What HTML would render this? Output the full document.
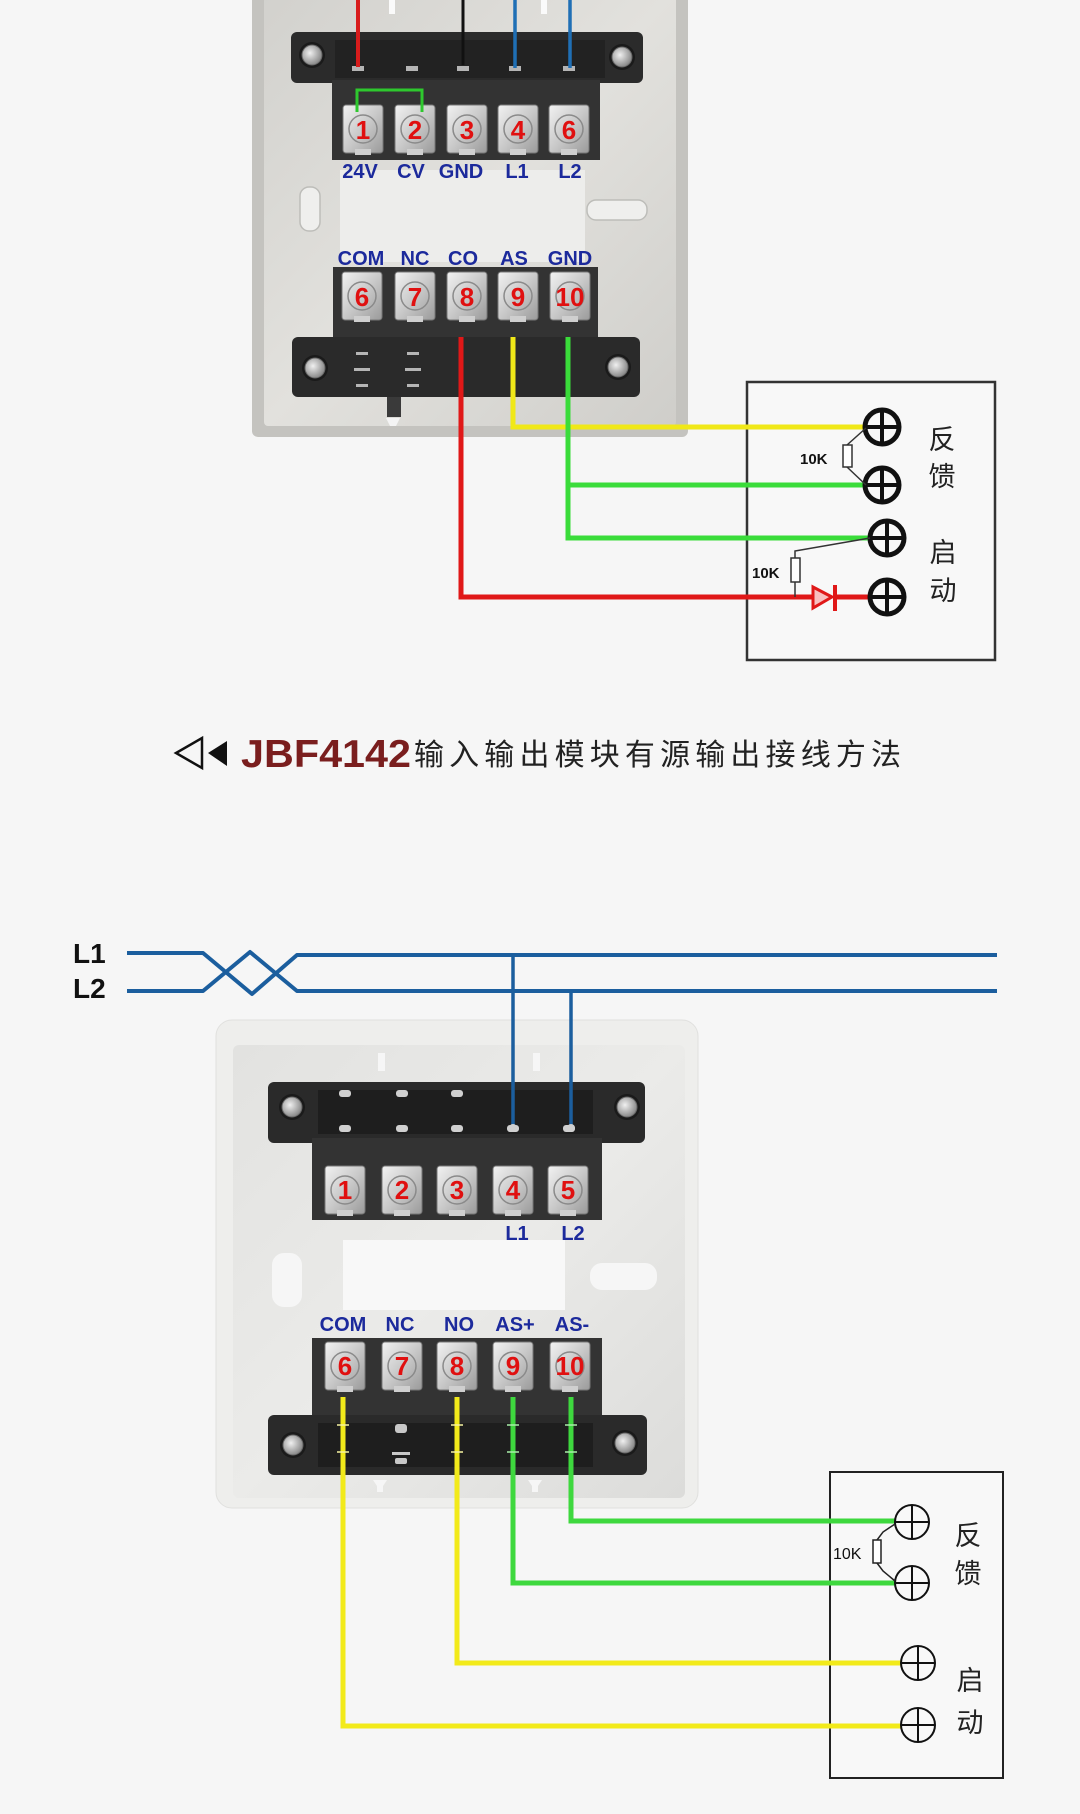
<!DOCTYPE html>
<html>
<head>
<meta charset="utf-8">
<style>
  html,body{margin:0;padding:0;background:#f6f6f6;}
  svg{display:block;}
  text{font-family:"Liberation Sans","Noto Sans CJK SC",sans-serif;}
</style>
</head>
<body>
<svg width="1080" height="1814" viewBox="0 0 1080 1814" xmlns="http://www.w3.org/2000/svg">
  <defs>
    <linearGradient id="tile" x1="0" y1="0" x2="1" y2="1">
      <stop offset="0" stop-color="#f2f2f2"/>
      <stop offset="0.5" stop-color="#c9c9c9"/>
      <stop offset="1" stop-color="#9a9a9a"/>
    </linearGradient>
    <radialGradient id="screw" cx="0.4" cy="0.4" r="0.6">
      <stop offset="0" stop-color="#f0f0f0"/>
      <stop offset="1" stop-color="#8a8a8a"/>
    </radialGradient>
    <linearGradient id="panel1" x1="0" y1="0" x2="1" y2="1">
      <stop offset="0" stop-color="#d2d1cd"/>
      <stop offset="0.5" stop-color="#e2e1dd"/>
      <stop offset="1" stop-color="#cfceca"/>
    </linearGradient>
    <linearGradient id="panel2" x1="0" y1="0" x2="1" y2="1">
      <stop offset="0" stop-color="#e2e2e0"/>
      <stop offset="0.5" stop-color="#ebebe9"/>
      <stop offset="1" stop-color="#dcdcda"/>
    </linearGradient>
    <g id="tileG">
      <rect x="-20" y="0" width="40" height="48" rx="3" fill="url(#tile)" stroke="#777" stroke-width="1"/>
      <circle cx="0" cy="24" r="14" fill="none" stroke="#8a8a8a" stroke-width="1.5"/>
      <rect x="-8" y="44" width="16" height="6" fill="#cfcfcf"/>
    </g>
    <g id="screwG">
      <circle r="13" fill="#1a1a1a"/>
      <circle r="10" fill="url(#screw)" stroke="#666" stroke-width="1"/>
    </g>
  </defs>

  <rect width="1080" height="1814" fill="#f6f6f6"/>

  <!-- ================= TOP MODULE ================= -->
  <rect x="252" y="-10" width="436" height="447" rx="6" fill="#c4c3bf"/>
  <rect x="264" y="-10" width="412" height="436" rx="4" fill="url(#panel1)"/>
  <rect x="340" y="170" width="245" height="92" fill="#ededeb"/>
  <rect x="300" y="187" width="20" height="44" rx="9" fill="#efefed" stroke="#bdbdb9" stroke-width="1.5"/>
  <rect x="587" y="200" width="60" height="20" rx="9" fill="#efefed" stroke="#bdbdb9" stroke-width="1.5"/>
  <rect x="389" y="0" width="6" height="14" fill="#fafafa"/>
  <rect x="541" y="0" width="6" height="14" fill="#fafafa"/>

  <rect x="291" y="32" width="352" height="51" rx="6" fill="#2b2b2b"/>
  <rect x="335" y="40" width="270" height="38" fill="#222"/>
  <g fill="#b5b5b5">
    <rect x="352" y="66" width="12" height="5"/>
    <rect x="406" y="66" width="12" height="5"/>
    <rect x="457" y="66" width="12" height="5"/>
    <rect x="509" y="66" width="12" height="5"/>
    <rect x="563" y="66" width="12" height="5"/>
  </g>
  <use href="#screwG" x="312" y="55"/>
  <use href="#screwG" x="622" y="57"/>

  <rect x="332" y="80" width="268" height="80" fill="#333"/>
  <use href="#tileG" x="363" y="105"/>
  <use href="#tileG" x="415" y="105"/>
  <use href="#tileG" x="467" y="105"/>
  <use href="#tileG" x="518" y="105"/>
  <use href="#tileG" x="569" y="105"/>
  <g font-weight="bold" font-size="26" fill="#e01010" text-anchor="middle">
    <text x="363" y="139">1</text>
    <text x="415" y="139">2</text>
    <text x="467" y="139">3</text>
    <text x="518" y="139">4</text>
    <text x="569" y="139">6</text>
  </g>
  <g font-weight="bold" font-size="20" fill="#1c2a9c" text-anchor="middle">
    <text x="360" y="178">24V</text>
    <text x="411" y="178">CV</text>
    <text x="461" y="178">GND</text>
    <text x="517" y="178">L1</text>
    <text x="570" y="178">L2</text>
  </g>

  <g font-weight="bold" font-size="20" fill="#1c2a9c" text-anchor="middle">
    <text x="361" y="265">COM</text>
    <text x="415" y="265">NC</text>
    <text x="463" y="265">CO</text>
    <text x="514" y="265">AS</text>
    <text x="570" y="265">GND</text>
  </g>
  <rect x="333" y="267" width="265" height="72" fill="#333"/>
  <use href="#tileG" x="362" y="272"/>
  <use href="#tileG" x="415" y="272"/>
  <use href="#tileG" x="467" y="272"/>
  <use href="#tileG" x="518" y="272"/>
  <use href="#tileG" x="570" y="272"/>
  <g font-weight="bold" font-size="26" fill="#e01010" text-anchor="middle">
    <text x="362" y="306">6</text>
    <text x="415" y="306">7</text>
    <text x="467" y="306">8</text>
    <text x="518" y="306">9</text>
    <text x="570" y="306">10</text>
  </g>
  <rect x="292" y="337" width="348" height="60" rx="6" fill="#2a2a2a"/>
  <g fill="#b5b5b5">
    <rect x="356" y="352" width="12" height="3"/>
    <rect x="354" y="368" width="16" height="3"/>
    <rect x="356" y="384" width="12" height="3"/>
    <rect x="407" y="352" width="12" height="3"/>
    <rect x="405" y="368" width="16" height="3"/>
    <rect x="407" y="384" width="12" height="3"/>
  </g>
  <use href="#screwG" x="315" y="368"/>
  <use href="#screwG" x="618" y="367"/>
  <rect x="387" y="397" width="14" height="20" fill="#3a3a3a"/>
  <path d="M386,418 h14 l-4,8 h-6 z" fill="#f4f4f4"/>

  <line x1="358" y1="0" x2="358" y2="67" stroke="#d81c1c" stroke-width="4"/>
  <line x1="463" y1="0" x2="463" y2="65" stroke="#111" stroke-width="3"/>
  <line x1="515" y1="0" x2="515" y2="68" stroke="#1f6fb5" stroke-width="3.5"/>
  <line x1="570" y1="0" x2="570" y2="68" stroke="#1f6fb5" stroke-width="3.5"/>
  <path d="M357,112 V90 H422 V112" fill="none" stroke="#2ec82e" stroke-width="3"/>

  <!-- box 1 -->
  <rect x="747" y="382" width="248" height="278" fill="#f8f8f8" stroke="#333" stroke-width="2.5"/>

  <path d="M461,337 V597 H812" fill="none" stroke="#e01818" stroke-width="5"/>
  <path d="M513,337 V427 H866" fill="none" stroke="#f0e818" stroke-width="5"/>
  <path d="M568,337 V538 H870" fill="none" stroke="#3adc3a" stroke-width="5"/>
  <path d="M568,485 H866" fill="none" stroke="#3adc3a" stroke-width="5"/>
  <line x1="835" y1="597" x2="870" y2="597" stroke="#e01818" stroke-width="5"/>

  <g stroke="#111" stroke-width="5" fill="none">
    <circle cx="882" cy="427" r="17"/>
    <circle cx="882" cy="485" r="17"/>
    <circle cx="887" cy="538" r="17"/>
    <circle cx="887" cy="597" r="17"/>
  </g>
  <g stroke="#111" stroke-width="4">
    <line x1="865" y1="427" x2="899" y2="427"/><line x1="882" y1="410" x2="882" y2="444"/>
    <line x1="865" y1="485" x2="899" y2="485"/><line x1="882" y1="468" x2="882" y2="502"/>
    <line x1="870" y1="538" x2="904" y2="538"/><line x1="887" y1="521" x2="887" y2="555"/>
    <line x1="870" y1="597" x2="904" y2="597"/><line x1="887" y1="580" x2="887" y2="614"/>
  </g>
  <path d="M847,445 L866,428 M847,467 L866,485" stroke="#333" stroke-width="1.5" fill="none"/>
  <rect x="843" y="445" width="9" height="22" fill="#fff" stroke="#333" stroke-width="1.5"/>
  <text x="800" y="464" font-size="15" font-weight="bold" fill="#111">10K</text>
  <path d="M795,558 V551 L870,538 M795,582 V597" stroke="#333" stroke-width="1.5" fill="none"/>
  <rect x="791" y="558" width="9" height="24" fill="#fff" stroke="#333" stroke-width="1.5"/>
  <text x="752" y="578" font-size="15" font-weight="bold" fill="#111">10K</text>
  <polygon points="813,587 813,608 832,597" fill="#f8c0c0" stroke="#e01818" stroke-width="3"/>
  <line x1="835" y1="585" x2="835" y2="611" stroke="#e01818" stroke-width="4"/>
  <g font-size="27" fill="#222" text-anchor="middle">
    <text x="942" y="449">反</text>
    <text x="942" y="486">馈</text>
    <text x="943" y="562">启</text>
    <text x="943" y="600">动</text>
  </g>

  <!-- ================= CAPTION ================= -->
  <polygon points="202,738 202,768 176,753" fill="none" stroke="#111" stroke-width="2.5"/>
  <polygon points="227,741 227,766 208,753" fill="#111"/>
  <text x="241" y="767" font-size="39" font-weight="bold" fill="#7a1e1e" textLength="170" lengthAdjust="spacingAndGlyphs">JBF4142</text>
  <text x="414" y="765" font-size="30" fill="#222" textLength="487" lengthAdjust="spacing">输入输出模块有源输出接线方法</text>

  <!-- ================= BOTTOM SECTION ================= -->
  <text x="73" y="963" font-size="28" font-weight="bold" fill="#111">L1</text>
  <text x="73" y="998" font-size="28" font-weight="bold" fill="#111">L2</text>
  <g stroke="#1b5e9e" stroke-width="4" fill="none" stroke-linejoin="round">
    <path d="M127,953 H203 L252,994 L297,955 H997"/>
    <path d="M127,991 H203 L250,952 L297,991 H997"/>
  </g>

  <rect x="216" y="1020" width="482" height="488" rx="16" fill="#eeeeec" stroke="#e0e0de" stroke-width="1"/>
  <rect x="233" y="1045" width="452" height="453" rx="6" fill="url(#panel2)"/>
  <rect x="343" y="1240" width="222" height="70" fill="#f8f8f8"/>
  <rect x="272" y="1253" width="30" height="54" rx="12" fill="#f6f6f6"/>
  <rect x="590" y="1263" width="67" height="27" rx="12" fill="#f6f6f6"/>
  <rect x="378" y="1053" width="7" height="18" fill="#f6f6f6"/>
  <rect x="533" y="1053" width="7" height="18" fill="#f6f6f6"/>

  <rect x="268" y="1082" width="377" height="61" rx="6" fill="#2a2a2a"/>
  <rect x="318" y="1090" width="275" height="44" fill="#1e1e1e"/>
  <g fill="#d0d0d0">
    <rect x="339" y="1090" width="12" height="7" rx="3"/>
    <rect x="396" y="1090" width="12" height="7" rx="3"/>
    <rect x="451" y="1090" width="12" height="7" rx="3"/>
    <rect x="339" y="1125" width="12" height="7" rx="3"/>
    <rect x="396" y="1125" width="12" height="7" rx="3"/>
    <rect x="451" y="1125" width="12" height="7" rx="3"/>
    <rect x="507" y="1125" width="12" height="7" rx="3"/>
    <rect x="563" y="1125" width="12" height="7" rx="3"/>
  </g>
  <use href="#screwG" x="292" y="1107"/>
  <use href="#screwG" x="627" y="1107"/>

  <rect x="312" y="1138" width="290" height="82" fill="#333"/>
  <use href="#tileG" x="345" y="1166"/>
  <use href="#tileG" x="402" y="1166"/>
  <use href="#tileG" x="457" y="1166"/>
  <use href="#tileG" x="513" y="1166"/>
  <use href="#tileG" x="568" y="1166"/>
  <g font-weight="bold" font-size="26" fill="#e01010" text-anchor="middle">
    <text x="345" y="1199">1</text>
    <text x="402" y="1199">2</text>
    <text x="457" y="1199">3</text>
    <text x="513" y="1199">4</text>
    <text x="568" y="1199">5</text>
  </g>
  <g font-weight="bold" font-size="20" fill="#1c2a9c" text-anchor="middle">
    <text x="517" y="1240">L1</text>
    <text x="573" y="1240">L2</text>
  </g>

  <g font-weight="bold" font-size="20" fill="#1c2a9c" text-anchor="middle">
    <text x="343" y="1331">COM</text>
    <text x="400" y="1331">NC</text>
    <text x="459" y="1331">NO</text>
    <text x="515" y="1331">AS+</text>
    <text x="572" y="1331">AS-</text>
  </g>
  <rect x="312" y="1338" width="290" height="79" fill="#333"/>
  <use href="#tileG" x="345" y="1342"/>
  <use href="#tileG" x="402" y="1342"/>
  <use href="#tileG" x="457" y="1342"/>
  <use href="#tileG" x="513" y="1342"/>
  <use href="#tileG" x="570" y="1342"/>
  <g font-weight="bold" font-size="26" fill="#e01010" text-anchor="middle">
    <text x="345" y="1375">6</text>
    <text x="402" y="1375">7</text>
    <text x="457" y="1375">8</text>
    <text x="513" y="1375">9</text>
    <text x="570" y="1375">10</text>
  </g>
  <rect x="268" y="1415" width="379" height="60" rx="6" fill="#2a2a2a"/>
  <rect x="318" y="1423" width="275" height="44" fill="#1e1e1e"/>
  <g fill="#c8c8c8">
    <rect x="395" y="1424" width="12" height="9" rx="3"/>
    <rect x="392" y="1452" width="18" height="3"/>
    <rect x="395" y="1458" width="12" height="6" rx="2"/>
  </g>
  <use href="#screwG" x="293" y="1445"/>
  <use href="#screwG" x="625" y="1443"/>
  <path d="M373,1480 h14 l-4,6 v6 h-6 v-6 z" fill="#f6f6f6"/>
  <path d="M528,1480 h14 l-4,6 v6 h-6 v-6 z" fill="#f6f6f6"/>

  <line x1="513" y1="953" x2="513" y2="1128" stroke="#1b5e9e" stroke-width="3.5"/>
  <line x1="571" y1="991" x2="571" y2="1128" stroke="#1b5e9e" stroke-width="3.5"/>
  <circle cx="513" cy="1128" r="4" fill="#d0d0d0"/>
  <circle cx="571" cy="1128" r="4" fill="#d0d0d0"/>

  <rect x="830" y="1472" width="173" height="306" fill="#f8f8f8" stroke="#222" stroke-width="2"/>

  <path d="M343,1397 V1726 H901" fill="none" stroke="#f2ea1a" stroke-width="5"/>
  <path d="M457,1397 V1663 H901" fill="none" stroke="#f2ea1a" stroke-width="5"/>
  <path d="M513,1397 V1583 H895" fill="none" stroke="#3ed83e" stroke-width="5"/>
  <path d="M571,1397 V1521 H895" fill="none" stroke="#3ed83e" stroke-width="5"/>
  <g stroke="#f7f3a0" stroke-width="1.5">
    <line x1="337" y1="1425" x2="349" y2="1425"/><line x1="337" y1="1452" x2="349" y2="1452"/>
    <line x1="451" y1="1425" x2="463" y2="1425"/><line x1="451" y1="1452" x2="463" y2="1452"/>
  </g>
  <g stroke="#a8eea8" stroke-width="1.5">
    <line x1="507" y1="1425" x2="519" y2="1425"/><line x1="507" y1="1452" x2="519" y2="1452"/>
    <line x1="565" y1="1425" x2="577" y2="1425"/><line x1="565" y1="1452" x2="577" y2="1452"/>
  </g>

  <g stroke="#111" stroke-width="2" fill="none">
    <circle cx="912" cy="1522" r="17"/>
    <circle cx="912" cy="1583" r="17"/>
    <circle cx="918" cy="1663" r="17"/>
    <circle cx="918" cy="1725" r="17"/>
    <line x1="895" y1="1522" x2="929" y2="1522"/><line x1="912" y1="1505" x2="912" y2="1539"/>
    <line x1="895" y1="1583" x2="929" y2="1583"/><line x1="912" y1="1566" x2="912" y2="1600"/>
    <line x1="901" y1="1663" x2="935" y2="1663"/><line x1="918" y1="1646" x2="918" y2="1680"/>
    <line x1="901" y1="1725" x2="935" y2="1725"/><line x1="918" y1="1708" x2="918" y2="1742"/>
  </g>
  <path d="M877,1540 L883,1532 L895,1524 M877,1563 L883,1571 L895,1581" stroke="#222" stroke-width="1.5" fill="none"/>
  <rect x="873" y="1540" width="8" height="23" fill="#fff" stroke="#222" stroke-width="1.5"/>
  <text x="833" y="1559" font-size="16" fill="#111">10K</text>
  <g font-size="27" fill="#222" text-anchor="middle">
    <text x="968" y="1545">反</text>
    <text x="968" y="1583">馈</text>
    <text x="970" y="1690">启</text>
    <text x="970" y="1732">动</text>
  </g>
</svg>
</body>
</html>
